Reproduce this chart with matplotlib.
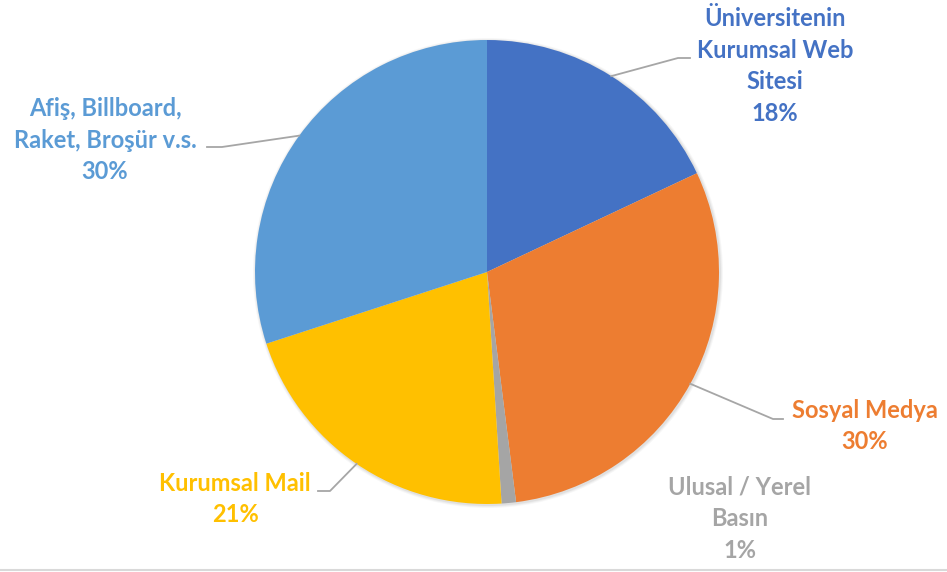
import matplotlib
matplotlib.use('Agg')
import matplotlib.pyplot as plt
from matplotlib.lines import Line2D
from matplotlib.patches import Circle
import numpy as np

plt.rcParams['font.family'] = ['Lato', 'DejaVu Sans']

# Veriler
kategoriler = ['Üniversitenin\nKurumsal Web\nSitesi', 'Sosyal Medya', 'Ulusal / Yerel\nBasın',
               'Kurumsal Mail', 'Afiş, Billboard,\nRaket, Broşür v.s.']
yuzdeler = [18, 30, 1, 21, 30]
renkler = ['#4472C4', '#ED7D31', '#A5A5A5', '#FFC000', '#5B9BD5']

W, H = 947, 572
merkez = (487, H - 272)
yaricap = 232

fig = plt.figure(figsize=(W / 100, H / 100), dpi=100)
ax = fig.add_axes([0, 0, 1, 1])

# hafif gölge
for i, a in enumerate([0.05, 0.04, 0.03]):
    ax.add_patch(Circle((merkez[0] + 1, merkez[1] - 1), yaricap + 1 + i, color='#000000',
                        alpha=a, lw=0, zorder=0))

wedges, _ = ax.pie(yuzdeler, colors=renkler, startangle=90, counterclock=False,
                   center=merkez, radius=yaricap, frame=True,
                   wedgeprops=dict(linewidth=0))
ax.set_xlim(0, W)
ax.set_ylim(0, H)
ax.set_aspect('equal')
ax.axis('off')

# etiket konumları (piksel) ve kılavuz çizgisi kırılma noktaları
etiket_xy = [(775, 66), (865, 426), (740, 519), (235, 499), (105, 140)]
kirilma = [[(678, 58), (690, 58)], [(773, 419), (783, 419)], None,
           [(330, 491), (318, 491)], [(222, 147), (207, 147)]]
etiket_renk = ['#4472C4', '#ED7D31', '#A5A5A5', '#FFC000', '#5B9BD5']

for w, ad, p, (lx, ly), kr, c in zip(wedges, kategoriler, yuzdeler, etiket_xy, kirilma, etiket_renk):
    ax.text(lx, H - ly, f'{ad}\n{p}%', ha='center', va='center', color=c,
            fontsize=17, fontweight='bold', linespacing=1.45)
    if kr is not None:
        orta = np.deg2rad((w.theta1 + w.theta2) / 2)
        x0 = merkez[0] + yaricap * np.cos(orta)
        y0 = merkez[1] + yaricap * np.sin(orta)
        xs = [x0] + [k[0] for k in kr]
        ys = [y0] + [H - k[1] for k in kr]
        ax.plot(xs, ys, color='#A6A6A6', lw=1.3, zorder=3)

fig.add_artist(Line2D([0, 1], [2.5 / H, 2.5 / H], color='#D9D9D9', lw=1.5))

plt.savefig('out.png', dpi=100)
